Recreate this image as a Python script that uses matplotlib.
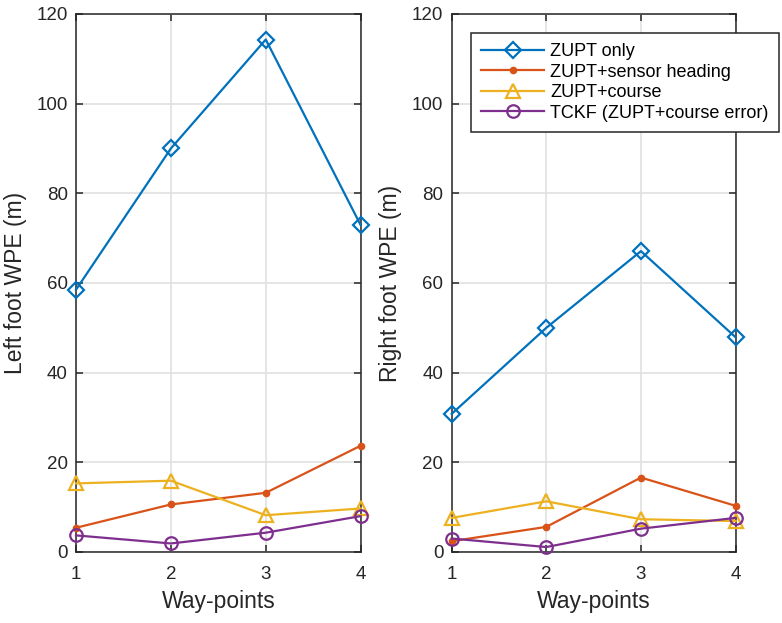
import matplotlib.pyplot as plt

plt.rcParams['font.family'] = ['Liberation Sans', 'DejaVu Sans']

waypoints = [1, 2, 3, 4]

left_zupt = [58.5, 90.0, 114.3, 72.9]
left_sensor = [5.4, 10.6, 13.2, 23.7]
left_course = [15.3, 15.9, 8.2, 9.7]
left_tckf = [3.7, 1.9, 4.3, 8.0]

right_zupt = [30.8, 50.0, 67.1, 47.9]
right_sensor = [2.4, 5.6, 16.6, 10.3]
right_course = [7.6, 11.3, 7.3, 6.9]
right_tckf = [3.0, 1.1, 5.2, 7.6]

labels = ['ZUPT only', 'ZUPT+sensor heading', 'ZUPT+course', 'TCKF (ZUPT+course error)']
colors = ['#0072BD', '#D95319', '#EDB120', '#7E2F8E']

fig = plt.figure(figsize=(7.82, 6.23), dpi=100)
ax1 = fig.add_axes([0.0972, 0.114, 0.364, 0.8636])
ax2 = fig.add_axes([0.5776, 0.114, 0.363, 0.8636])


def draw(ax, zupt, sensor, course, tckf, ylabel):
    ax.plot(waypoints, zupt, color=colors[0], lw=1.6, marker='D', ms=8,
            mfc='none', mew=1.6, label=labels[0], clip_on=False, zorder=3)
    ax.plot(waypoints, sensor, color=colors[1], lw=1.6, marker='o', ms=4.5,
            mfc=colors[1], mec=colors[1], label=labels[1], clip_on=False, zorder=3)
    ax.plot(waypoints, course, color=colors[2], lw=1.6, marker='^', ms=9.5,
            mfc='none', mew=1.6, label=labels[2], clip_on=False, zorder=3)
    ax.plot(waypoints, tckf, color=colors[3], lw=1.6, marker='o', ms=9,
            mfc='none', mew=1.6, label=labels[3], clip_on=False, zorder=3)
    ax.set_xlim(1, 4)
    ax.set_ylim(0, 120)
    ax.set_xticks(waypoints)
    ax.set_yticks(range(0, 121, 20))
    ax.grid(True, color='#e0e0e0', lw=1.2)
    ax.set_axisbelow(True)
    ax.tick_params(direction='in', top=True, right=True, labelsize=13.5,
                   colors='#262626', length=5, width=1.1)
    ax.tick_params(axis='x', pad=10)
    ax.tick_params(axis='y', pad=6)
    for s in ax.spines.values():
        s.set_color('#262626')
        s.set_linewidth(1.1)
    ax.set_xlabel('Way-points', fontsize=16.5, color='#262626', labelpad=5)
    ax.set_ylabel(ylabel, fontsize=16.5, color='#262626', labelpad=7)


draw(ax1, left_zupt, left_sensor, left_course, left_tckf, 'Left foot WPE (m)')
draw(ax2, right_zupt, right_sensor, right_course, right_tckf, 'Right foot WPE (m)')

leg = ax2.legend(loc='upper left', bbox_to_anchor=(471 / 782, 1 - 33 / 623),
                 bbox_transform=fig.transFigure, borderaxespad=0, fontsize=13,
                 fancybox=False, framealpha=1, edgecolor='#262626',
                 handlelength=3.5, handletextpad=0.35, borderpad=0.55,
                 labelspacing=0.2)
leg.get_frame().set_linewidth(1.1)

plt.savefig('out.png', dpi=100)
